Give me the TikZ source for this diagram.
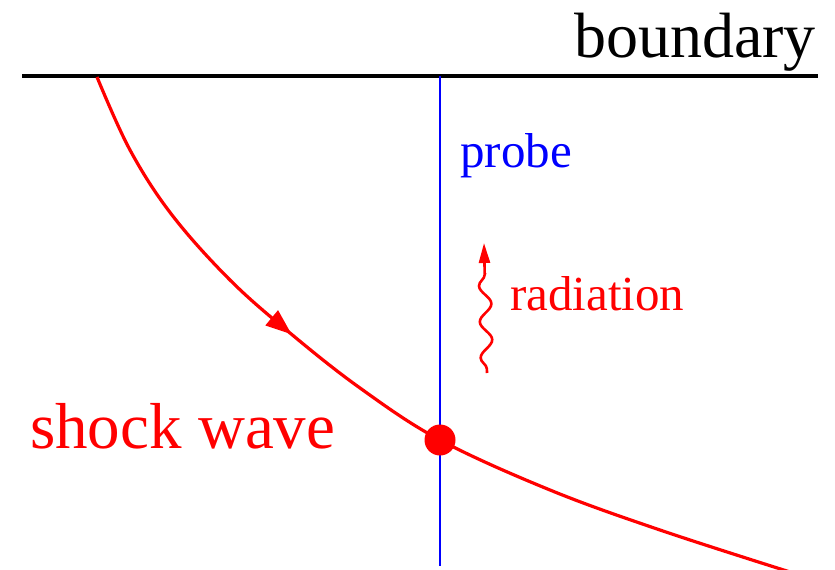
\documentclass[tikz,border=0pt]{standalone}
\usepackage{fontspec}
\setmainfont{Liberation Serif}
\usetikzlibrary{arrows.meta,decorations.pathmorphing,decorations.markings}
\tikzset{
  lbl/.style={inner sep=0pt, anchor=base west},
  shockline/.style={red, line width=3.2pt},
}
\begin{document}
\begin{tikzpicture}[x=1pt,y=-1pt]
\useasboundingbox (0,0) rectangle (835,570);
% boundary
\coordinate (bl) at (22,76);
\coordinate (br) at (818,76);
\draw[line width=3.8pt] (bl) -- (br);
\node[lbl, anchor=base east, font=\fontsize{64}{70}\selectfont] (boundary) at (816,57) {boundary};
% probe
\coordinate (pt) at (440,76);
\coordinate (pb) at (440,566);
\draw[blue, line width=2.2pt] (pt) -- (pb);
\node[lbl, blue, font=\fontsize{49}{55}\selectfont] (probe) at (460,167) {probe};
% shock wave
\draw[shockline, postaction={decorate},
  decoration={markings, mark=at position 0.37 with {\arrow{Triangle[length=26pt,width=19pt]}}}]
  plot[smooth, tension=0.6] coordinates {(97,77) (130,150) (172,215) (230,280) (290,333) (360,388) (440,440) (550,490) (660,530) (790,572)};
\node[circle, fill=red, inner sep=0pt, minimum size=31pt] (dot) at (440,440) {};
\node[lbl, red, font=\fontsize{65}{70}\selectfont] (shock) at (30,448) {shock wave};
% radiation
\coordinate (rs) at (487,373);
\coordinate (re) at (484,243);
\draw[red, line width=2.6pt, -{Triangle[length=20pt,width=11pt]},
  decorate, decoration={snake, amplitude=6pt, segment length=36pt, pre length=4pt, post length=22pt}]
  (rs) -- (re);
\node[lbl, red, font=\fontsize{49}{55}\selectfont] (rad) at (510,310) {radiation};
\end{tikzpicture}
\end{document}
